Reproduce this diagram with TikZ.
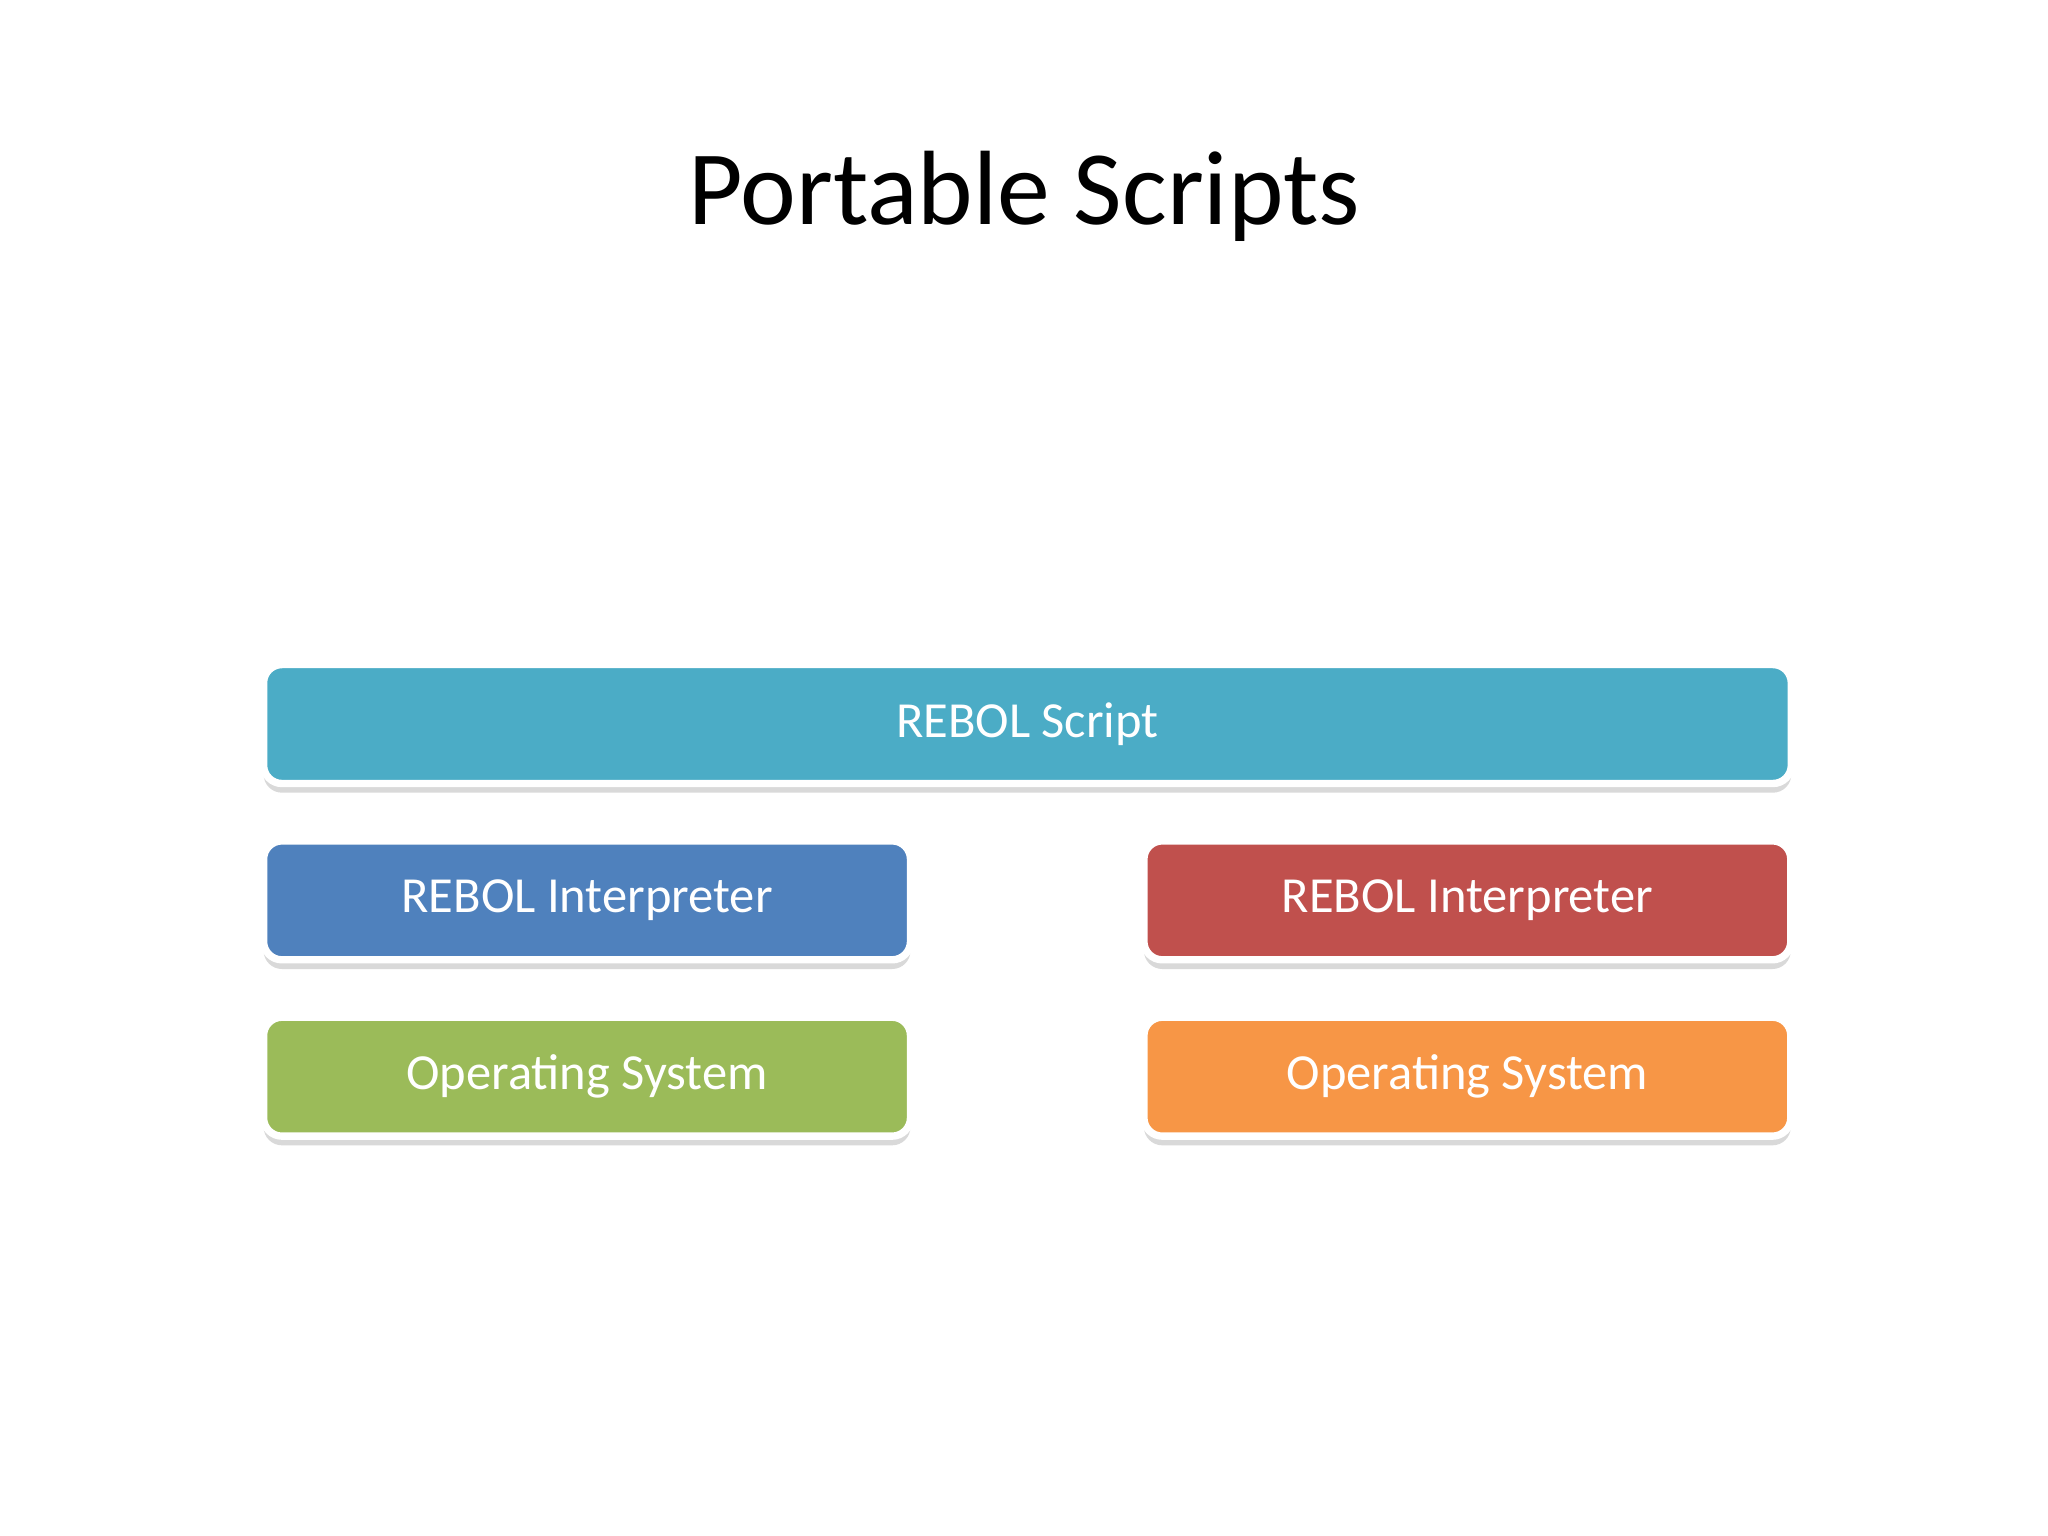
\documentclass[tikz,border=0pt]{standalone}
\usepackage{fontspec}
\setmainfont{Carlito}
\usetikzlibrary{shadows}
\definecolor{cA}{HTML}{4BACC6}
\definecolor{cB}{HTML}{4F81BD}
\definecolor{cC}{HTML}{C0504D}
\definecolor{cD}{HTML}{9BBB59}
\definecolor{cE}{HTML}{F79646}
\tikzset{bx/.style={draw=white,line width=1.6pt,rounded corners=4pt,text=white,font=\fontsize{11}{13}\selectfont,
  drop shadow={shadow xshift=0pt,shadow yshift=-2pt,fill=black!25,opacity=0.6},minimum height=0.91cm,anchor=north west,inner sep=0pt}}
\begin{document}
\begin{tikzpicture}[x=0.01cm,y=-0.01cm]
\useasboundingbox (0,0) rectangle (1568,1176);
\node[font=\fontsize{23}{26}\selectfont] (t) at (784,150) {Portable Scripts};
\node[bx,fill=cA,minimum width=11.69cm] (s) at (199,506) {REBOL Script};
\node[bx,fill=cB,minimum width=4.95cm] (i1) at (199,641) {REBOL Interpreter};
\node[bx,fill=cC,minimum width=4.95cm] (i2) at (873,641) {REBOL Interpreter};
\node[bx,fill=cD,minimum width=4.95cm] (o1) at (199,776) {Operating System};
\node[bx,fill=cE,minimum width=4.95cm] (o2) at (873,776) {Operating System};
\end{tikzpicture}
\end{document}
